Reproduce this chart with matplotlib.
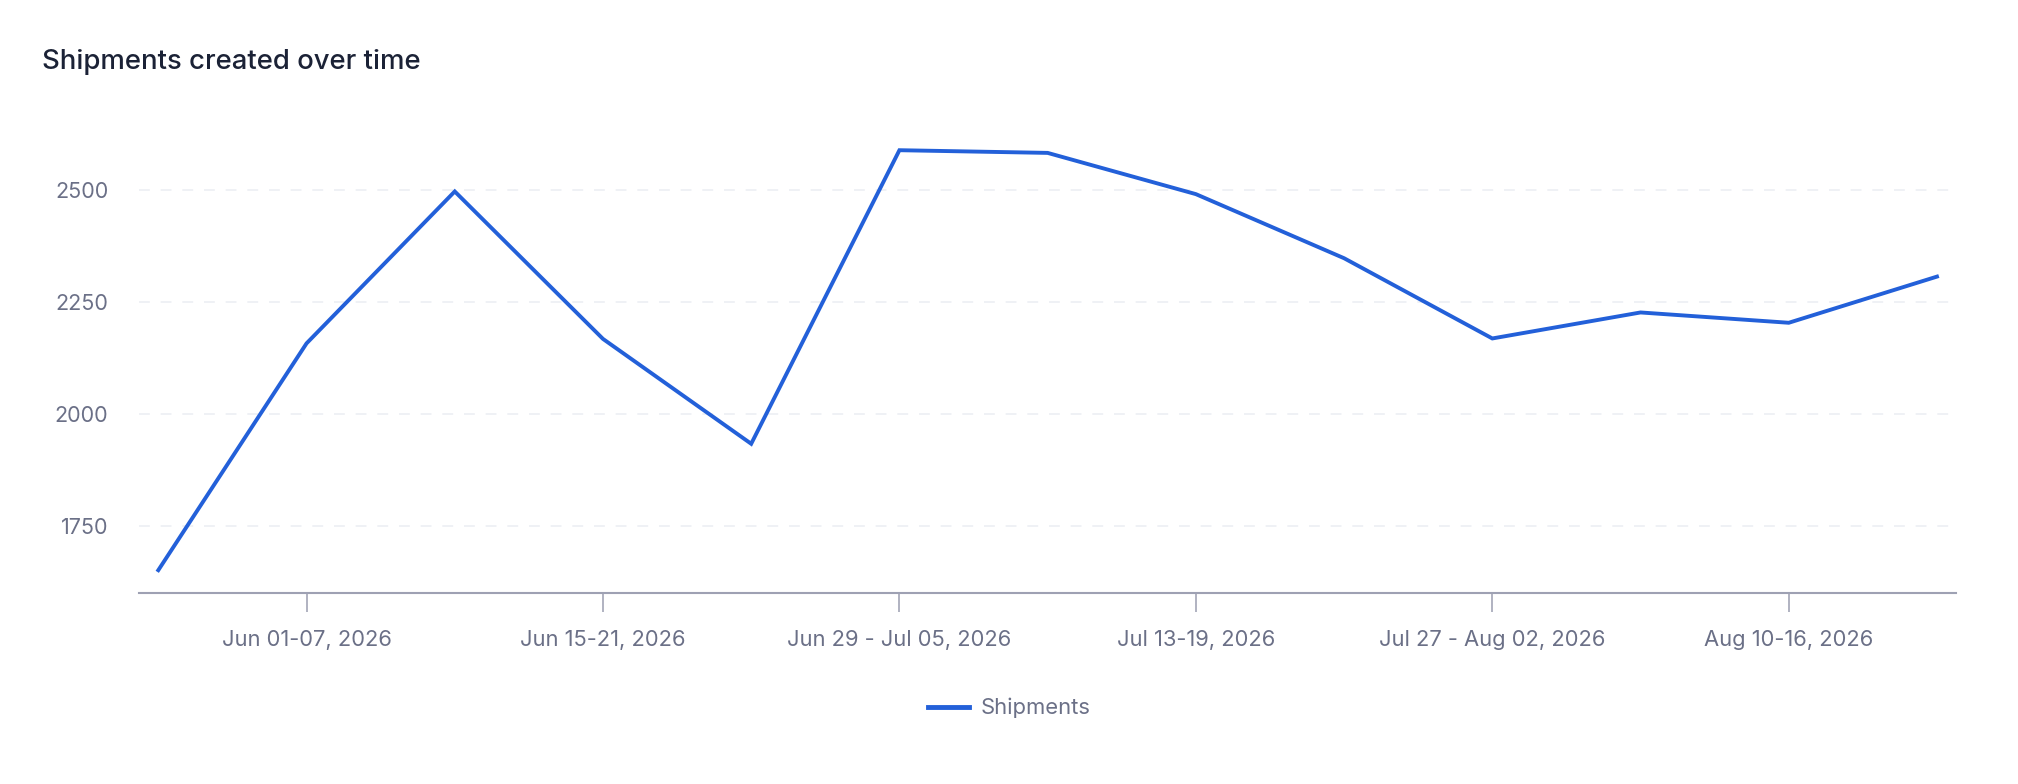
import matplotlib
matplotlib.use("Agg")
import matplotlib.pyplot as plt
from matplotlib.lines import Line2D

weeks = ["May 25-31, 2026", "Jun 01-07, 2026", "Jun 08-14, 2026", "Jun 15-21, 2026",
         "Jun 22-28, 2026", "Jun 29 - Jul 05, 2026", "Jul 06-12, 2026", "Jul 13-19, 2026",
         "Jul 20-26, 2026", "Jul 27 - Aug 02, 2026", "Aug 03-09, 2026", "Aug 10-16, 2026",
         "Aug 17-23, 2026"]
shipments = [1652, 2158, 2497, 2168, 1934, 2589, 2583, 2491, 2348, 2169, 2227, 2204, 2307]
y_ticks = [1750, 2000, 2250, 2500]

plt.rcParams['font.family'] = ['Inter', 'DejaVu Sans']

fig = plt.figure(figsize=(20.18, 7.84), dpi=100)
ax = fig.add_axes([0.0689, 0.243, 0.9005, 0.606])

x = list(range(len(weeks)))
ax.plot(x, shipments, color="#2360d9", lw=2.8, solid_joinstyle="miter", label="Shipments")
ax.set_xlim(-0.13, len(weeks) - 1 + 0.13)
ax.set_ylim(1600, 2660)

ax.set_yticks(y_ticks)
ax.set_yticklabels([str(v) for v in y_ticks])
ax.set_xticks(x[1::2])
ax.set_xticklabels(weeks[1::2])

for v in y_ticks:
    ax.axhline(v, color="#eef0f4", lw=1.3, ls=(0, (6, 6)), zorder=0)

for s in ["top", "right", "left"]:
    ax.spines[s].set_visible(False)
ax.spines["bottom"].set_color("#9ea1b3")
ax.spines["bottom"].set_linewidth(1.5)

ax.tick_params(axis="y", length=0, pad=22, labelsize=15.5, labelcolor="#6b7087")
ax.tick_params(axis="x", length=14, width=1.2, color="#a3a6b6", pad=12,
               labelsize=15.8, labelcolor="#6b7087")

fig.text(0.021, 0.921, "Shipments created over time", fontsize=19.8, color="#1b2236",
         va="center", ha="left", fontweight="medium")

handle = Line2D([0], [0], color="#2360d9", lw=3.5)
fig.legend([handle], ["Shipments"], loc="center", bbox_to_anchor=(0.5, 0.097),
           frameon=False, fontsize=15.8, labelcolor="#6b7087",
           handlelength=1.9, handletextpad=0.5)

fig.savefig("out.png", dpi=100, facecolor="white")
